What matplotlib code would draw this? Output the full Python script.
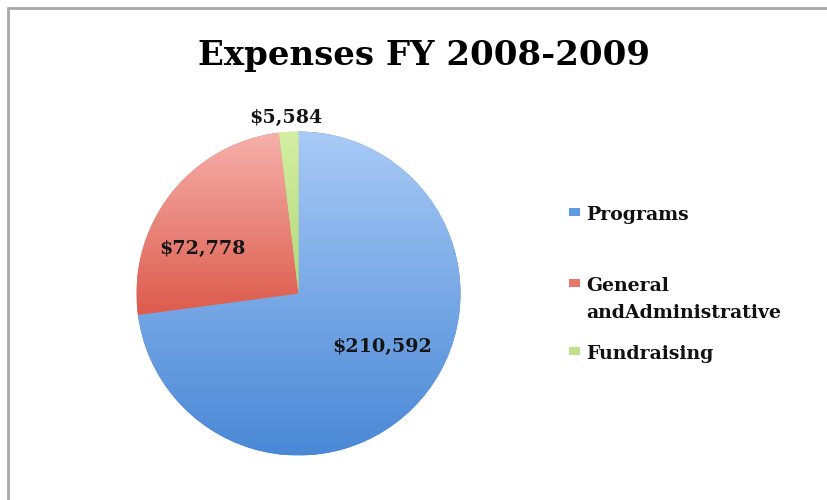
import numpy as np
import matplotlib
matplotlib.use("Agg")
import matplotlib.pyplot as plt
from matplotlib.colors import LinearSegmentedColormap
from matplotlib.patches import Rectangle

# data
categories = ["Programs", "General\nandAdministrative", "Fundraising"]
values = [210592, 72778, 5584]
value_labels = ["$210,592", "$72,778", "$5,584"]
title = "Expenses FY 2008-2009"

# gradient colours (top, bottom) per slice
grad_top = ["#a8caf6", "#f6b1ab", "#d4eea2"]
grad_bot = ["#4a88d6", "#dc5b4c", "#b2d97a"]
legend_cols = ["#5f9be2", "#e8776b", "#bfe08a"]

serif = ["DejaVu Serif"]
W, H = 827, 500

fig = plt.figure(figsize=(8.27, 5.0), dpi=100)
fig.patch.set_facecolor("white")

# chart frame (gray border on top and left, runs off the image)
fig.patches.append(Rectangle((7.5 / W, -0.1), 1.2, 0.1 + (H - 7.5) / H,
                             transform=fig.transFigure, fill=False,
                             edgecolor="#a8a8a8", linewidth=2.0))

# pie axes: centre (298.5, 293.5) px, radius 162 px
cx, cy, r = 298.5, 293.5, 162
ax = fig.add_axes([(cx - r) / W, (H - cy - r) / H, 2 * r / W, 2 * r / H])
wedges, _ = ax.pie(values, startangle=90, counterclock=False, radius=1,
                   wedgeprops=dict(linewidth=0))
ax.set_aspect("equal")
ax.axis("off")

grad = np.linspace(1, 0, 256).reshape(-1, 1)
for w, top, bot in zip(wedges, grad_top, grad_bot):
    w.set_facecolor(bot)
    bb = w.get_path().get_extents()
    cmap = LinearSegmentedColormap.from_list("g", [bot, top])
    im = ax.imshow(grad, cmap=cmap, aspect="auto", interpolation="bilinear",
                   extent=(bb.x0, bb.x1, bb.y0, bb.y1), zorder=2)
    im.set_clip_path(w)
ax.set_xlim(-1, 1)
ax.set_ylim(-1, 1)

# data labels (baseline positions, in pie radius units)
label_pos = [(0.519, -0.361), (-0.590, 0.244), (-0.077, 1.052)]
for (x, y), txt in zip(label_pos, value_labels):
    ax.text(x, y, txt, ha="center", va="baseline", fontsize=13.8,
            fontweight="bold", family=serif, color="#141414", zorder=5,
            clip_on=False)

# title
fig.text(423.5 / W, (H - 65) / H, title, ha="center", va="baseline",
         fontsize=24.5, fontweight="bold", family=serif, color="black")

# legend (baseline of each text line in px from top)
leg_base = [[220], [291, 318], [359]]
for col, lab, bases in zip(legend_cols, categories, leg_base):
    fig.patches.append(Rectangle((569 / W, (H - bases[0] + 4) / H), 11 / W, 8 / H,
                                 transform=fig.transFigure, facecolor=col,
                                 edgecolor="none"))
    for line, yy in zip(lab.split("\n"), bases):
        fig.text(586 / W, (H - yy) / H, line, ha="left", va="baseline",
                 fontsize=13.6, fontweight="bold", family=serif, color="#111111")

fig.savefig("out.png", dpi=100, facecolor="white")
